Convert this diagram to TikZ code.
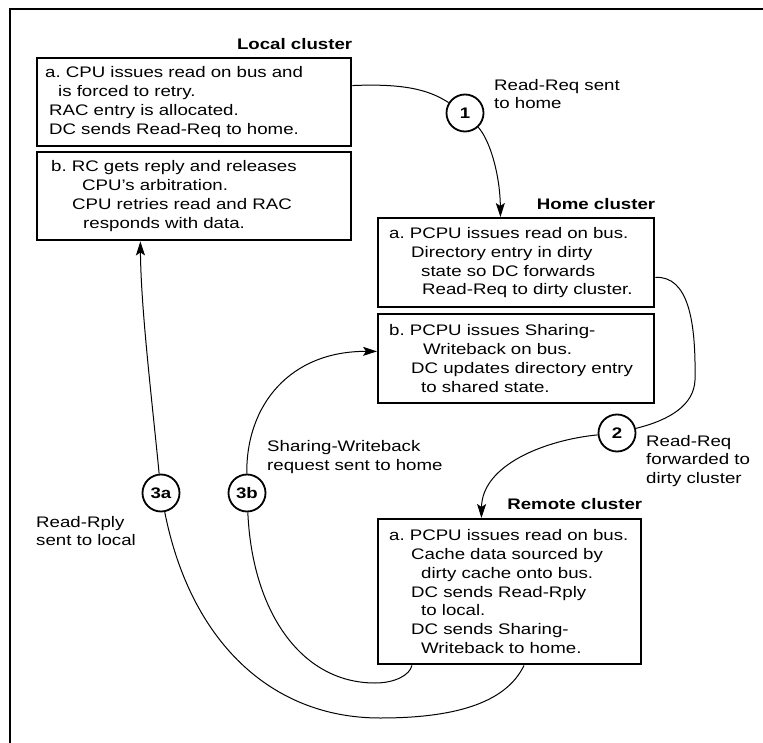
\documentclass[tikz,border=0pt]{standalone}
\usepackage{fontspec}
\setmainfont{Liberation Sans}[FakeStretch=1.22]
\usetikzlibrary{arrows.meta}
\frenchspacing

\tikzset{
  clusterbox/.style={draw=black, line width=2.4pt, inner xsep=0pt, inner ysep=0pt, anchor=north west, align=left, font=\fontsize{15.3}{18.8}\selectfont},
  clustertitle/.style={font=\fontsize{15.3}{18}\selectfont\bfseries, inner sep=0pt, anchor=base east},
  stepmark/.style={circle, draw=black, fill=white, line width=1.8pt, minimum size=37pt, inner sep=0pt, font=\fontsize{15.3}{18}\selectfont\bfseries},
  msglabel/.style={align=left, inner sep=0pt, anchor=west, font=\fontsize{15.3}{18.8}\selectfont},
  msgline/.style={line width=1pt},
  msgarrow/.style={line width=1pt, -{Stealth[length=14pt, width=9pt, inset=3pt]}}
}

\begin{document}
\begin{tikzpicture}[x=1pt, y=1pt]
    \useasboundingbox (0,0) rectangle (763,-743);
    \draw[line width=1.3pt] (763,-9) -- (10,-9) -- (10,-743);

    % cluster boxes
    \node[clusterbox, text width=314pt, minimum height=88pt] (La) at (36,-57) {%
      \hspace*{8pt}a. CPU issues read on bus and\\
      \hspace*{21pt}is forced to retry.\\
      \hspace*{12pt}RAC entry is allocated.\\
      \hspace*{12pt}DC sends Read-Req to home.};
    \node[clusterbox, text width=314pt, minimum height=88pt] (Lb) at (36,-151) {%
      \hspace*{14pt}b. RC gets reply and releases\\
      \hspace*{45pt}CPU's arbitration.\\
      \hspace*{35pt}CPU retries read and RAC\\
      \hspace*{46pt}responds with data.};
    \node[clusterbox, text width=276pt, minimum height=89pt] (Ha) at (377,-217) {%
      \hspace*{11pt}a. PCPU issues read on bus.\\
      \hspace*{33pt}Directory entry in dirty\\
      \hspace*{43pt}state so DC forwards\\
      \hspace*{44pt}Read-Req to dirty cluster.};
    \node[clusterbox, text width=276pt, minimum height=89pt] (Hb) at (377,-313) {%
      \hspace*{11pt}b. PCPU issues Sharing-\\
      \hspace*{45pt}Writeback on bus.\\
      \hspace*{33pt}DC updates directory entry\\
      \hspace*{43pt}to shared state.};
    \node[clusterbox, text width=263pt, minimum height=145pt] (Rm) at (377,-518) {%
      \hspace*{11pt}a. PCPU issues read on bus.\\
      \hspace*{33pt}Cache data sourced by\\
      \hspace*{43pt}dirty cache onto bus.\\
      \hspace*{33pt}DC sends Read-Rply\\
      \hspace*{43pt}to local.\\
      \hspace*{33pt}DC sends Sharing-\\
      \hspace*{43pt}Writeback to home.};

    \node[clustertitle] (localtitle) at ([yshift=7pt]La.north east) {Local cluster};
    \node[clustertitle] (hometitle) at ([yshift=7pt]Ha.north east) {Home cluster};
    \node[clustertitle] (remotetitle) at ([yshift=9pt]Rm.north east) {Remote cluster};

    % steps
    \node[stepmark] (s1) at (465,-113) {1};
    \node[stepmark] (s2) at (617,-433) {2};
    \node[stepmark] (s3a) at (161,-493) {3a};
    \node[stepmark] (s3b) at (247,-493) {3b};

    \node[msglabel] (lbl1) at (494,-94) {Read-Req sent\\to home};
    \node[msglabel] (lbl2) at (646,-461) {Read-Req\\forwarded to\\dirty cluster};
    \node[msglabel] (lbl3a) at (36,-531) {Read-Rply\\sent to local};
    \node[msglabel] (lbl3b) at (267,-457) {Sharing-Writeback\\request sent to home};

    % 1: local to home
    \draw[msgline] (La.6) .. controls (410,-83) and (432,-92) .. (s1);
    \draw[msgarrow] (s1) .. controls (490,-140) and (500,-175) .. (Ha.109);
    % 2: home to remote
    \draw[msgline] (Ha.354) .. controls (688,-276) and (696,-320) .. (695,-380) .. controls (694,-405) and (670,-420) .. (s2);
    \draw[msgarrow] (s2) .. controls (545,-440) and (482,-465) .. (Rm.111);
    % 3b: remote to home
    \draw[msgline] (Rm.217) .. controls (410,-675) and (395,-683) .. (375,-683) .. controls (300,-683) and (252,-610) .. (s3b);
    \draw[msgarrow] (s3b) .. controls (246,-405) and (290,-351) .. (Hb.177);
    % 3a: remote to local
    \draw[msgline] (Rm.281) .. controls (505,-705) and (450,-718) .. (380,-718) .. controls (270,-718) and (190,-640) .. (s3a);
    \draw[msgarrow] (s3a) .. controls (152,-400) and (141,-310) .. (Lb.220);
\end{tikzpicture}
\end{document}
